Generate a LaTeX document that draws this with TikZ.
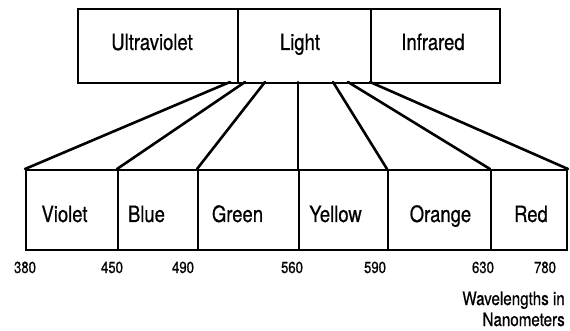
\documentclass[tikz,border=0pt]{standalone}
\usepackage{fontspec}
\setmainfont[FakeStretch=0.82,FakeBold=0.6]{TeX Gyre Heros}
\begin{document}
\begin{tikzpicture}[x=1pt,y=-1pt,
  box/.style={draw, line width=2pt, inner sep=0pt, anchor=north west},
  fan/.style={line width=2.6pt, line cap=round},
  lbl/.style={anchor=base, font=\fontsize{22.5}{24}\selectfont, inner sep=0pt},
  num/.style={anchor=base, font=\fontsize{16}{18}\selectfont, inner sep=0pt},
  note/.style={anchor=base east, font=\fontsize{18.5}{20}\selectfont, inner sep=0pt}]
\useasboundingbox (0,0) rectangle (570,331);
% top boxes
\node[box, minimum width=160pt, minimum height=74pt] (uv) at (77,8) {};
\node[box, minimum width=133pt, minimum height=74pt] (light) at (237,8) {};
\node[box, minimum width=129pt, minimum height=74pt] (ir) at (370,8) {};
\node[lbl] (tuv) at (152,50) {Ultraviolet};
\node[lbl] (tlight) at (300,50) {Light};
\node[lbl] (tir) at (433,50) {Infrared};
% bottom boxes
\node[box, minimum width=92pt, minimum height=80pt] (violet) at (25,169) {};
\node[box, minimum width=80pt, minimum height=80pt] (blue) at (117,169) {};
\node[box, minimum width=101pt, minimum height=80pt] (green) at (197,169) {};
\node[box, minimum width=89pt, minimum height=80pt] (yellow) at (298,169) {};
\node[box, minimum width=103pt, minimum height=80pt] (orange) at (387,169) {};
\node[box, minimum width=76pt, minimum height=80pt] (red) at (490,169) {};
\node[lbl] (tviolet) at (64.5,222) {Violet};
\node[lbl] (tblue) at (146.5,222) {Blue};
\node[lbl] (tgreen) at (237.5,222) {Green};
\node[lbl] (tyellow) at (335.5,222) {Yellow};
\node[lbl] (torange) at (440.5,222) {Orange};
\node[lbl] (tred) at (531,222) {Red};
% fan
\coordinate (f1) at (230,82);
\coordinate (f2) at (245,82);
\coordinate (f3) at (265,82);
\coordinate (f4) at (298,82);
\coordinate (f5) at (333,82);
\coordinate (f6) at (348,82);
\coordinate (f7) at (370,82);
\draw[fan] (f1) -- (violet.north west);
\draw[fan] (f2) -- (blue.north west);
\draw[fan] (f3) -- (green.north west);
\draw[fan] (f4) -- (yellow.north west);
\draw[fan] (f5) -- (orange.north west);
\draw[fan] (f6) -- (red.north west);
\draw[fan] (f7) -- (red.north east);
% numbers
\node[num] (n380) at (25,273) {380};
\node[num] (n450) at (112,273) {450};
\node[num] (n490) at (183,273) {490};
\node[num] (n560) at (292,273) {560};
\node[num] (n590) at (375,273) {590};
\node[num] (n630) at (483,273) {630};
\node[num] (n780) at (545,273) {780};
\node[note] (w1) at (565,305) {Wavelengths in};
\node[note] (w2) at (565,326) {Nanometers};
\end{tikzpicture}
\end{document}
